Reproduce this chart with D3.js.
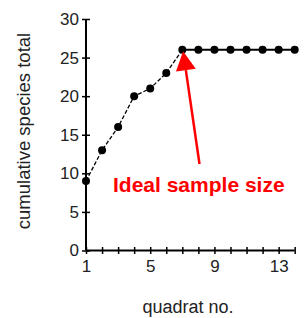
<!DOCTYPE html>
<html><head><meta charset="utf-8">
<script src="https://cdn.jsdelivr.net/npm/d3@7"></script>
<style>html,body{margin:0;padding:0;background:#fff;}svg{display:block;}</style>
</head><body>
<svg id="chart" width="304" height="318"></svg>
<script>
const quadrats = [1,2,3,4,5,6,7,8,9,10,11,12,13,14];
const species = [9,13,16,20,21,23,26,26,26,26,26,26,26,26];
const yTicks = [0,5,10,15,20,25,30];
const xTickLabels = [1,5,9,13];
const idealIndex = 6;
const annotation = "Ideal sample size";
const xTitle = "quadrat no.";
const yTitle = "cumulative species total";

const svg = d3.select("#chart");
const x = d3.scaleLinear().domain([1,14]).range([86,294.7]);
const y = d3.scaleLinear().domain([0,30]).range([250.5,19]);
const font = "'Liberation Sans', Arial, sans-serif";

// axes
const xAxis = d3.axisBottom(x).tickValues(quadrats).tickSize(3.5)
  .tickFormat(d => xTickLabels.includes(d) ? d : "");
const gx = svg.append("g").attr("transform", `translate(0,${y(0)})`).call(xAxis);
gx.select(".domain").attr("d", `M${x(1)},0H${x(14)}`).attr("stroke","#000").attr("stroke-width",2);
gx.selectAll(".tick line").attr("y1",-3.5).attr("y2",3.5).attr("stroke-width",1.5);
gx.selectAll(".tick text").attr("y",9).attr("dy","0.71em").attr("font-size",17).attr("font-family",font).attr("fill","#222");

const yAxis = d3.axisLeft(y).tickValues(yTicks).tickSize(4);
const gy = svg.append("g").attr("transform", `translate(${x(1)},0)`).call(yAxis);
gy.select(".domain").attr("d", `M0,${y(0)}V${y(30)}`).attr("stroke","#000").attr("stroke-width",2);
gy.selectAll(".tick line").attr("x1",-4).attr("x2",4).attr("stroke-width",1.5);
gy.selectAll(".tick text").attr("x",-7).attr("font-size",17).attr("font-family",font).attr("fill","#222");

// titles
svg.append("text").attr("transform",`translate(30,131) rotate(-90)`)
  .attr("text-anchor","middle").attr("font-size",18.5).attr("font-family",font).attr("fill","#222").text(yTitle);
svg.append("text").attr("x",188).attr("y",313).attr("text-anchor","middle")
  .attr("font-size",18).attr("font-family",font).attr("fill","#222").text(xTitle);

// data lines
const pts = quadrats.map((q,i)=>[x(q), y(species[i])]);
const line = d3.line();
svg.append("path").attr("d", line(pts.slice(0, idealIndex+1))).attr("fill","none")
  .attr("stroke","#000").attr("stroke-width",1.3).attr("stroke-dasharray","4,2");
svg.append("path").attr("d", line(pts.slice(idealIndex))).attr("fill","none")
  .attr("stroke","#000").attr("stroke-width",2);
svg.selectAll("circle.pt").data(pts).join("circle").attr("class","pt")
  .attr("cx",d=>d[0]).attr("cy",d=>d[1]).attr("r",4).attr("fill","#000");

// arrow
const tip = [pts[idealIndex][0]+0.8, pts[idealIndex][1]+1.5];
const tail = [199.5, 164];
const dx = tip[0]-tail[0], dy = tip[1]-tail[1], len = Math.hypot(dx,dy);
const ux = dx/len, uy = dy/len, hl = 19, hw = 10;
const base = [tip[0]-ux*hl, tip[1]-uy*hl];
svg.append("line").attr("x1",tail[0]).attr("y1",tail[1]).attr("x2",base[0]).attr("y2",base[1])
  .attr("stroke","#ff0000").attr("stroke-width",2.5);
svg.append("path").attr("d", `M${tip[0]},${tip[1]}L${base[0]-uy*hw},${base[1]+ux*hw}L${base[0]+uy*hw},${base[1]-ux*hw}Z`)
  .attr("fill","#ff0000");

svg.append("text").attr("x",113).attr("y",192).attr("font-size",21).attr("font-weight","bold")
  .attr("font-family",font).attr("fill","#ff0000").text(annotation);
</script>
</body></html>
